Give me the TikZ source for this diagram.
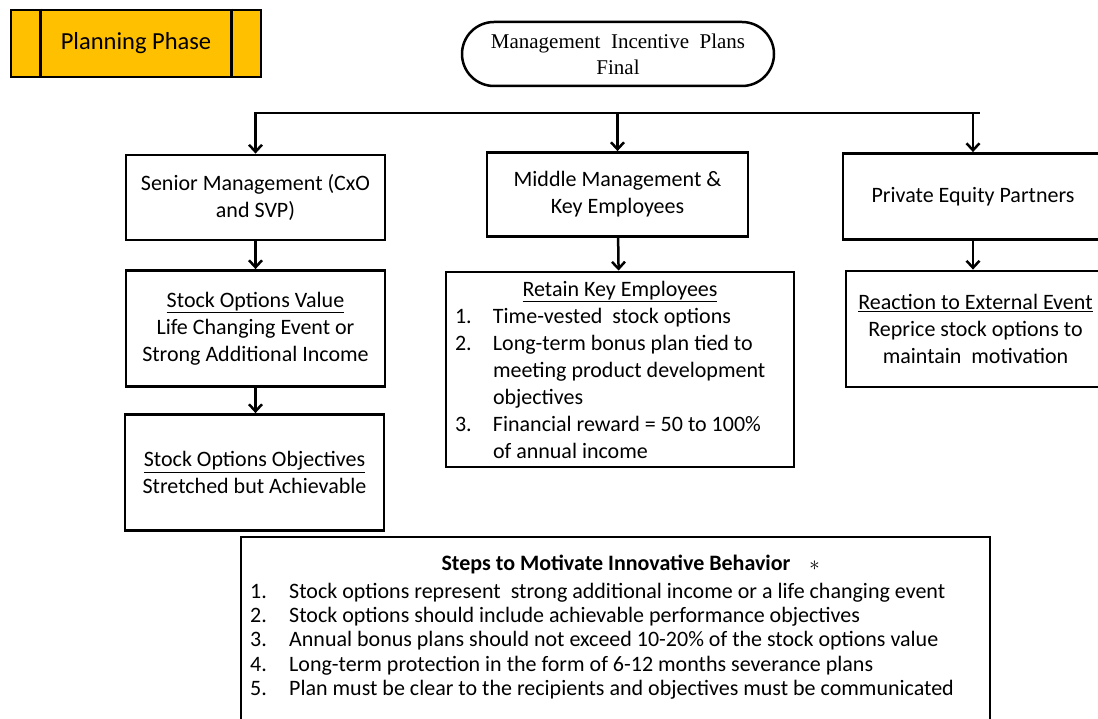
\documentclass[tikz,border=0pt]{standalone}
\usepackage{fontspec}
\setmainfont{Carlito}
\newfontfamily\timesfont{Liberation Serif}
\usetikzlibrary{arrows.meta}
\definecolor{phaseorange}{HTML}{FFC000}
\newcommand{\itemno}[1]{\makebox[38pt][l]{#1}}
\tikzset{
  box/.style={draw, line width=2.8pt, rectangle, align=center, inner sep=0pt,
    font=\fontsize{22pt}{27pt}\selectfont},
  conn/.style={line width=2.5pt},
  arr/.style={conn, -{Straight Barb[length=7pt,width=13pt]}},
}
\begin{document}
\begin{tikzpicture}[x=1pt, y=-1pt]
\useasboundingbox (0,0) rectangle (1098,719);

% phase label
\node[box, fill=phaseorange, minimum width=250pt, minimum height=67pt,
  font=\fontsize{24.5pt}{28pt}\selectfont] (phase) at (136,43.5) {Planning Phase};
\draw[line width=2.8pt] ([xshift=31pt]phase.north west) -- ([xshift=31pt]phase.south west);
\draw[line width=2.8pt] ([xshift=-31pt]phase.north east) -- ([xshift=-31pt]phase.south east);

% title
\node[box, line width=2.5pt, rounded corners=32pt, minimum width=312pt, minimum height=64pt,
  font=\timesfont\fontsize{21pt}{26pt}\selectfont] (title) at (618,54)
  {Management\ \ Incentive\ \ Plans\\Final};

% distribution bus
\coordinate (busL) at (254,113);
\coordinate (busR) at (980,113);
\draw[conn] (busL) -- (busR);

% left column
\node[box, minimum width=259pt, minimum height=85pt] (senior) at (255.5,197.5)
  {Senior Management (CxO\\and SVP)};
\node[box, minimum width=259pt, minimum height=116pt] (value) at (255.5,328.5)
  {\underline{Stock Options Value}\\Life Changing Event or\\Strong Additional Income};
\node[box, minimum width=259pt, minimum height=116pt] (objectives) at (254.5,472.5)
  {\underline{Stock Options Objectives}\\Stretched but Achievable};

% middle column
\node[box, minimum width=261pt, minimum height=84pt] (middle) at (617.5,194.5)
  {Middle Management \&\\Key Employees};
\node[box, minimum width=348pt, minimum height=195pt, inner xsep=9pt,
  align=left] (retain) at (620,369.5)
  {\makebox[330pt][c]{\underline{Retain Key Employees}}\\
   \itemno{1.}Time-vested\ \ stock options\\
   \itemno{2.}Long-term bonus plan tied to\\
   \hspace*{38pt}meeting product development\\
   \hspace*{38pt}objectives\\
   \itemno{3.}Financial reward = 50 to 100\%\\
   \hspace*{38pt}of annual income};

% right column
\node[box, minimum width=260pt, minimum height=86pt] (equity) at (973,196.5)
  {Private Equity Partners};
\node[box, minimum width=259pt, minimum height=116pt] (reaction) at (975.5,329)
  {\underline{Reaction to External Event}\\Reprice stock options to\\maintain\ \ motivation};

% connectors
\draw[arr] (senior.north |- busL) -- (senior.north);
\draw[arr] (middle.north |- busL) -- (middle.north);
\draw[arr] (equity.north |- busL) -- (equity.north);
\draw[arr] (senior) -- (value);
\draw[arr] (value.south) -- (value.south |- objectives.north);
\draw[arr] (middle) -- (retain);
\draw[arr] (equity.south) -- (equity.south |- reaction.north);

% summary of steps
\node[box, minimum width=749pt, minimum height=203pt] (steps) at (615.5,638.5) {};
\node[font=\bfseries\fontsize{22pt}{24.3pt}\selectfont, inner sep=0pt] (stepstitle)
  at (616,564) {Steps to Motivate Innovative Behavior\rlap{\hspace{19pt}$\ast$}};
\node[font=\fontsize{22pt}{24.3pt}\selectfont, align=left, inner sep=0pt, anchor=west]
  (stepslist) at (250,641)
  {\makebox[39pt][l]{1.}Stock options represent\ \ strong additional income or a life changing event\\
   \makebox[39pt][l]{2.}Stock options should include achievable performance objectives\\
   \makebox[39pt][l]{3.}Annual bonus plans should not exceed 10-20\% of the stock options value\\
   \makebox[39pt][l]{4.}Long-term protection in the form of 6-12 months severance plans\\
   \makebox[39pt][l]{5.}Plan must be clear to the recipients and objectives must be communicated};
\end{tikzpicture}
\end{document}
